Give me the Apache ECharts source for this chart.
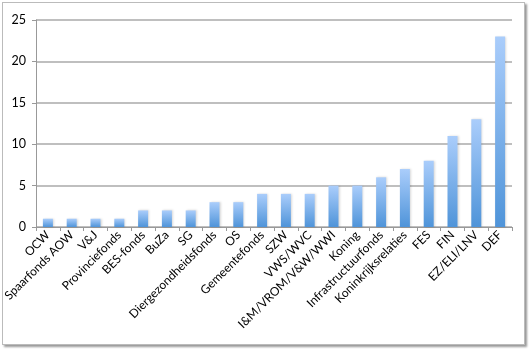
<!DOCTYPE html>
<html>
<head>
<meta charset="utf-8">
<script src="https://cdn.jsdelivr.net/npm/echarts@6/dist/echarts.min.js"></script>
<style>
  html, body { margin: 0; padding: 0; background: #fff; }
  #frame { position: absolute; left: 2px; top: 2px; width: 521px; height: 341px;
           border: 1px solid #bbb; box-shadow: 2px 2px 2px #999; }
  #chart { position: absolute; left: 0; top: 0; width: 529px; height: 351px; }
</style>
</head>
<body>
<div id="frame"></div>
<div id="chart"></div>
<script>
let categories = ['OCW', 'Spaarfonds AOW', 'V&J', 'Provinciefonds', 'BES-fonds', 'BuZa', 'SG',
    'Diergezondheidsfonds', 'OS', 'Gemeentefonds', 'SZW', 'VWS/WVC', 'I&M/VROM/V&W/WWI',
    'Koning', 'Infrastructuurfonds', 'Koninkrijksrelaties', 'FES', 'FIN', 'EZ/ELI/LNV', 'DEF'];
let values = [1, 1, 1, 1, 2, 2, 2, 3, 3, 4, 4, 4, 5, 5, 6, 7, 8, 11, 13, 23];

let chartDom = document.getElementById('chart');
let myChart = echarts.init(chartDom);

const option = {
    animation: false,
    textStyle: { fontFamily: 'Lato' },
    grid: {
        left: 36,
        right: 17,
        top: 20,
        bottom: 124
    },
    xAxis: {
        type: 'category',
        data: categories,
        axisLine: { lineStyle: { color: '#999', width: 1 } },
        axisTick: { show: true, length: 4, lineStyle: { color: '#999' } },
        axisLabel: {
            rotate: 45,
            interval: 0,
            color: '#000',
            fontSize: 12,
            margin: 6
        }
    },
    yAxis: {
        type: 'value',
        min: 0,
        max: 25,
        interval: 5,
        axisLine: { show: true, lineStyle: { color: '#999' } },
        axisTick: { show: true, length: 4, lineStyle: { color: '#999' } },
        axisLabel: { color: '#000', fontSize: 12.5, margin: 10 },
        splitLine: { lineStyle: { color: '#aaa', width: 1.5 } }
    },
    series: [{
        type: 'bar',
        data: values,
        barWidth: 10,
        itemStyle: {
            color: new echarts.graphic.LinearGradient(0, 0, 0, 1, [
                { offset: 0, color: '#aacdfb' },
                { offset: 1, color: '#4f94d9' }
            ]),
            shadowColor: 'rgba(0,0,0,0.15)',
            shadowBlur: 2,
            shadowOffsetX: 1
        }
    }]
};

myChart.setOption(option);
</script>
</body>
</html>
